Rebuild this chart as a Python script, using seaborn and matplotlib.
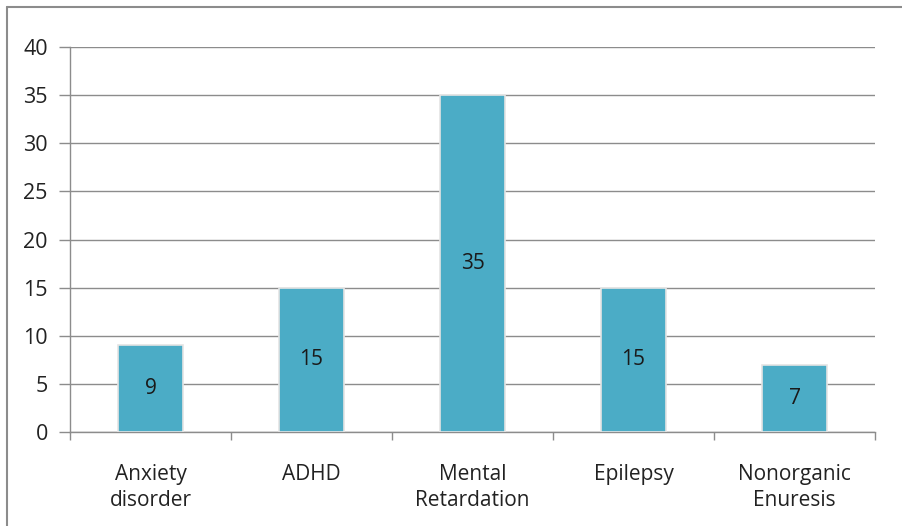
import matplotlib
matplotlib.use("Agg")
import matplotlib.pyplot as plt
from matplotlib.lines import Line2D
import seaborn as sns
import pandas as pd

categories = ["Anxiety\ndisorder", "ADHD", "Mental\nRetardation", "Epilepsy", "Nonorganic\nEnuresis"]
counts = [9, 15, 35, 15, 7]
y_ticks = [0, 5, 10, 15, 20, 25, 30, 35, 40]

sns.set_theme(style="white")
plt.rcParams["font.family"] = ["Open Sans", "DejaVu Sans"]

df = pd.DataFrame({"category": categories, "count": counts})

fig = plt.figure(figsize=(9.02, 5.26), dpi=100)
ax = fig.add_axes([70 / 902, 1 - 432 / 526, (875 - 70) / 902, (432 - 47) / 526])

sns.barplot(data=df, x="category", y="count", color="#4BACC6", saturation=1,
            width=0.4, edgecolor="#e4e4e4", linewidth=1.2, ax=ax, zorder=3)

ax.set_ylim(0, 40)
ax.set_xlim(-0.5, len(categories) - 0.5)
ax.set_yticks(y_ticks)
ax.yaxis.grid(True, color="#8c8c8c", linewidth=1.0, zorder=0)
ax.set_axisbelow(True)

for s in ["top", "right"]:
    ax.spines[s].set_visible(False)
for s in ["left", "bottom"]:
    ax.spines[s].set_color("#8c8c8c")
    ax.spines[s].set_linewidth(1.0)

ax.tick_params(axis="y", which="major", length=8, width=1.0, color="#8c8c8c",
               labelsize=15.5, labelcolor="#222222", pad=8, left=True)
ax.set_xticks(range(len(categories)))
ax.set_xticklabels(categories, fontsize=15, color="#222222", linespacing=1.3)
ax.tick_params(axis="x", which="major", length=0, pad=23)
ax.set_xticks([i - 0.5 for i in range(len(categories) + 1)], minor=True)
ax.tick_params(axis="x", which="minor", length=6, width=1.0, color="#8c8c8c", bottom=True)
ax.set_xlabel("")
ax.set_ylabel("")

for i, v in enumerate(counts):
    ax.text(i, v / 2, str(v), ha="center", va="center", fontsize=15,
            color="#1a1a1a", zorder=4)

# outer chart frame (top and left edges)
fig.add_artist(Line2D([7 / 902, 1], [1 - 7 / 526, 1 - 7 / 526], color="#8c8c8c",
                      linewidth=1.5, transform=fig.transFigure))
fig.add_artist(Line2D([7 / 902, 7 / 902], [0, 1 - 7 / 526], color="#8c8c8c",
                      linewidth=1.5, transform=fig.transFigure))

fig.savefig("out.png", dpi=100)
